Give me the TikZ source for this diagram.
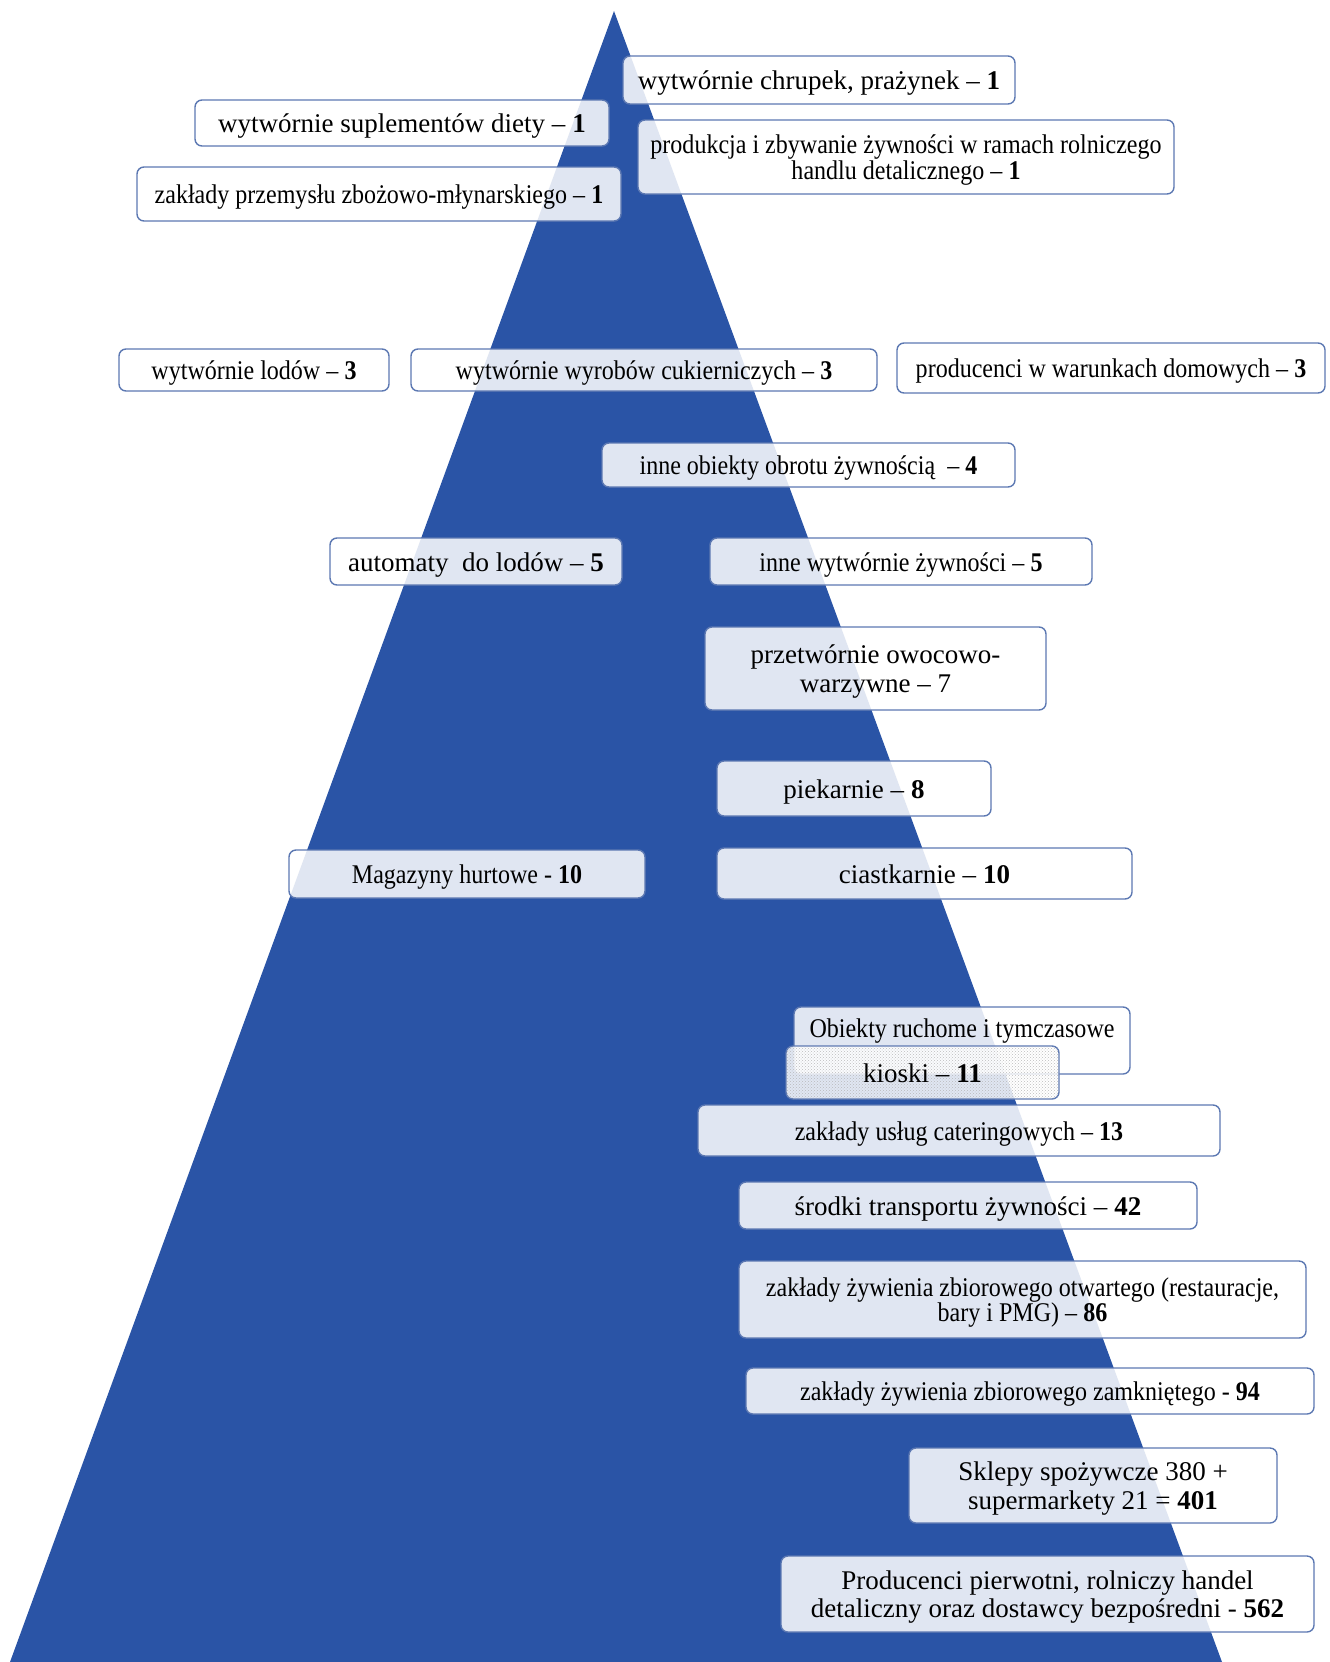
\documentclass[tikz,border=0pt]{standalone}
\usepackage{fontspec}
\setmainfont{Liberation Serif}
\newfontfamily\condfont{Liberation Serif}[FakeStretch=0.89]
\usetikzlibrary{patterns}
\definecolor{tri}{RGB}{42,84,166}
\definecolor{boxline}{RGB}{92,120,178}
\tikzset{
  box/.style={draw=boxline, line width=1.4pt, rounded corners=7pt, fill=white,
    fill opacity=0.86, text opacity=1, align=center, inner sep=2pt,
    text depth=0pt, font=\fontsize{27}{28}\selectfont},
  oneline/.style={text height=19pt, text depth=0pt},
  cond/.style={font=\fontsize{27}{28}\selectfont\condfont},
  tight/.style={font=\fontsize{27}{24.5}\selectfont\condfont},
  loose/.style={font=\fontsize{27}{28.5}\selectfont},
  kiosk/.style={postaction={pattern=crosshatch dots, pattern color=gray!60}},
  plain/.style={font=\fontsize{27}{28}\selectfont\condfont, inner sep=0pt}
}
\begin{document}
\begin{tikzpicture}[x=1pt,y=-1pt]
\useasboundingbox (0,0) rectangle (1330,1662);
\fill[tri] (614,11) -- (10,1662) -- (1222,1662) -- cycle;

\node[box, oneline, minimum width=392pt, minimum height=48pt] (n1) at (819,80) {wytwórnie chrupek, prażynek – \textbf{1}};
\node[box, oneline, minimum width=414pt, minimum height=46pt] (n2) at (402,123) {wytwórnie suplementów diety – \textbf{1}};
\node[box, tight, minimum width=536pt, minimum height=74pt] (n3) at (906,157) {produkcja i zbywanie żywności w ramach rolniczego\\handlu detalicznego – \textbf{1}};
\node[box, oneline, cond, minimum width=484pt, minimum height=54pt] (n4) at (379,194) {zakłady przemysłu zbożowo-młynarskiego – \textbf{1}};
\node[box, oneline, cond, minimum width=270pt, minimum height=42pt] (n5) at (254,370) {wytwórnie lodów – \textbf{3}};
\node[box, oneline, cond, minimum width=466pt, minimum height=42pt] (n6) at (644,370) {wytwórnie wyrobów cukierniczych – \textbf{3}};
\node[box, oneline, cond, minimum width=428pt, minimum height=50pt] (n7) at (1111,368) {producenci w warunkach domowych – \textbf{3}};
\node[box, oneline, cond, minimum width=413pt, minimum height=44pt] (n8) at (808.5,465) {inne obiekty obrotu żywnością\ \ – \textbf{4}};
\node[box, oneline, minimum width=292pt, minimum height=47pt] (n9) at (476,561.5) {automaty\ \ do lodów – \textbf{5}};
\node[box, oneline, cond, minimum width=382pt, minimum height=47pt] (n10) at (901,561.5) {inne wytwórnie żywności – \textbf{5}};
\node[box, loose, minimum width=341pt, minimum height=83pt] (n11) at (875.5,668.5) {przetwórnie owocowo-\\warzywne – 7};
\node[box, oneline, minimum width=274pt, minimum height=55pt] (n12) at (854,788.5) {piekarnie – \textbf{8}};
\node[box, oneline, cond, minimum width=356pt, minimum height=48pt] (n13) at (467,874) {Magazyny hurtowe - \textbf{10}};
\node[box, oneline, minimum width=415pt, minimum height=51pt] (n14) at (924.5,873.5) {ciastkarnie – \textbf{10}};
\node[box, minimum width=336pt, minimum height=67pt] (n15) at (962,1040.5) {};
\node[plain] (n15t) at (962,1031) {Obiekty ruchome i tymczasowe};
\node[box, oneline, kiosk, minimum width=273pt, minimum height=53pt] (n16) at (922.5,1072.5) {kioski – \textbf{11}};
\node[box, oneline, cond, minimum width=522pt, minimum height=51pt] (n17) at (959,1130.5) {zakłady usług cateringowych – \textbf{13}};
\node[box, oneline, minimum width=458pt, minimum height=47pt] (n18) at (968,1205.5) {środki transportu żywności – \textbf{42}};
\node[box, tight, minimum width=567pt, minimum height=77pt] (n19) at (1022.5,1299.5) {zakłady żywienia zbiorowego otwartego (restauracje,\\bary i PMG) – \textbf{86}};
\node[box, oneline, cond, minimum width=568pt, minimum height=46pt] (n20) at (1030,1391) {zakłady żywienia zbiorowego zamkniętego - \textbf{94}};
\node[box, loose, minimum width=368pt, minimum height=75pt] (n21) at (1093,1485.5) {Sklepy spożywcze 380 +\\supermarkety 21 = \textbf{401}};
\node[box, loose, minimum width=533pt, minimum height=76pt] (n22) at (1047.5,1594) {Producenci pierwotni, rolniczy handel\\detaliczny oraz dostawcy bezpośredni - \textbf{562}};
\end{tikzpicture}
\end{document}
